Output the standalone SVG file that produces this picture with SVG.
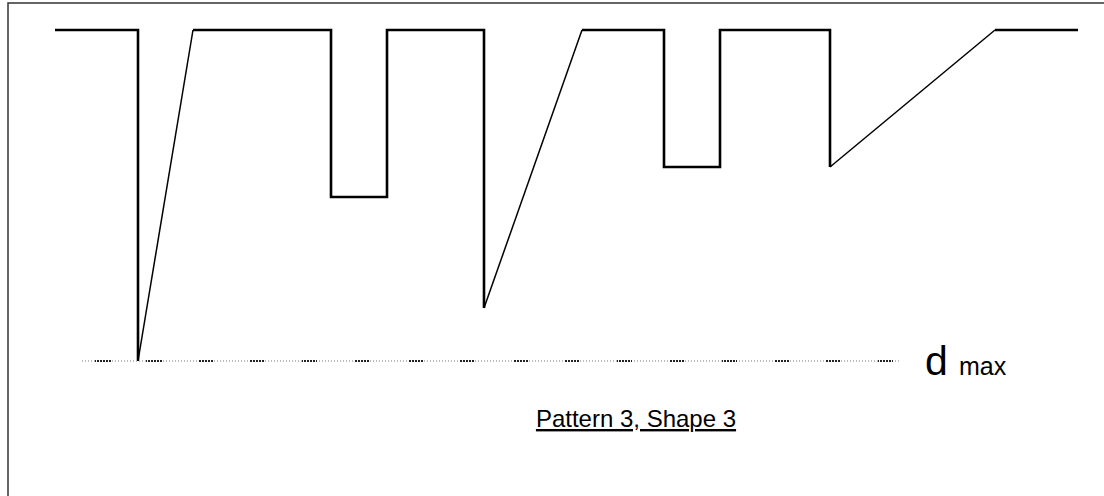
<svg xmlns="http://www.w3.org/2000/svg" width="1104" height="496" viewBox="0 0 1104 496">
<style>
.frame{fill:none;stroke:#333;stroke-width:1.5}
.sq{fill:none;stroke:#000;stroke-width:2.6;stroke-linejoin:miter}
.sl{fill:none;stroke:#000;stroke-width:1.5}
.dots{stroke:#bbb;stroke-width:2;stroke-dasharray:1 2}
.dash{stroke:#222;stroke-width:2;stroke-dasharray:2 1}
.txt{font-family:"Liberation Sans",Arial,sans-serif;fill:#000}
</style>
<defs>
<clipPath id="dashclip">
<path d="M95,355h17v12h-17z M146,355h16v12h-16z M198,355h15v12h-15z M250,355h15v12h-15z M302,355h15v12h-15z M355,355h15v12h-15z M408,355h15v12h-15z M460,355h15v12h-15z M513,355h15v12h-15z M565,355h15v12h-15z M617,355h15v12h-15z M670,355h15v12h-15z M722,355h15v12h-15z M774,355h15v12h-15z M826,355h15v12h-15z M878,355h15v12h-15z"/>
</clipPath>
</defs>
<rect class="frame" x="8" y="3" width="1110" height="510"/>
<g id="connectors">
<path class="sq" d="M55,30 H138 V361"/>
<path class="sl" d="M138,361 L193,30"/>
<path class="sq" d="M193,30 H331 V197 H387 V30 H484 V308"/>
<path class="sl" d="M484,308 L582,30"/>
<path class="sq" d="M582,30 H664 V167 H720 V30 H830 V167"/>
<path class="sl" d="M830,167 L995,30"/>
<path class="sq" d="M995,30 H1078"/>
</g>
<g id="dmax-line">
<line class="dots" x1="82" y1="361" x2="900" y2="361"/>
<line class="dash" x1="82" y1="361" x2="900" y2="361" clip-path="url(#dashclip)"/>
</g>
<g id="dmax-label">
<text class="txt" x="925" y="375" font-size="41">d</text>
<text class="txt" x="959" y="375" font-size="25">max</text>
</g>
<g id="caption">
<text class="txt" x="636" y="427" font-size="24" text-anchor="middle" text-decoration="underline">Pattern 3, Shape 3</text>
</g>
</svg>
